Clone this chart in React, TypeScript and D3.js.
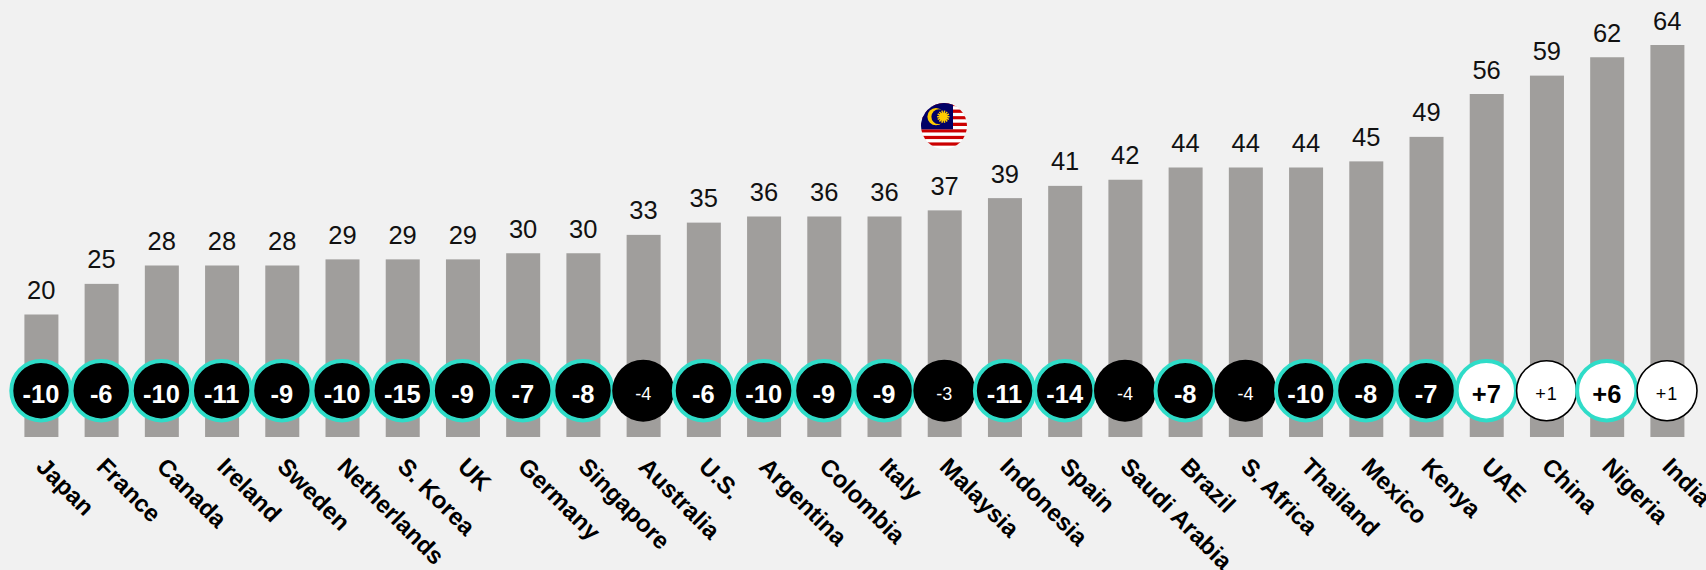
import React from "react";
import * as d3 from "d3";

const countries = ["Japan", "France", "Canada", "Ireland", "Sweden", "Netherlands", "S. Korea", "UK", "Germany", "Singapore", "Australia", "U.S.", "Argentina", "Colombia", "Italy", "Malaysia", "Indonesia", "Spain", "Saudi Arabia", "Brazil", "S. Africa", "Thailand", "Mexico", "Kenya", "UAE", "China", "Nigeria", "India"];
const scores = [20, 25, 28, 28, 28, 29, 29, 29, 30, 30, 33, 35, 36, 36, 36, 37, 39, 41, 42, 44, 44, 44, 45, 49, 56, 59, 62, 64];
const changes = [-10, -6, -10, -11, -9, -10, -15, -9, -7, -8, -4, -6, -10, -9, -9, -3, -11, -14, -4, -8, -4, -10, -8, -7, 7, 1, 6, 1];

const WIDTH = 1706;
const HEIGHT = 570;
const BAR_WIDTH = 34;
const BADGE_Y = 390.7;
const TEAL = "#2fdcc8";
const FONT = "'Liberation Sans', Arial, sans-serif";

const x = d3.scaleLinear().domain([0, countries.length - 1]).range([41, 1667]);
const y = d3.scaleLinear().domain([0, 64]).range([437, 45]);

// Round Malaysian flag floating above its bar
function MalaysiaFlag({ cx, cy, r }: { cx: number; cy: number; r: number }) {
  const stripeHeight = (2 * r) / 14;
  const stripes = d3.range(14);
  const top = cy - r;
  const cantonBottom = top + stripeHeight * 8;
  const cantonRight = cx + 9;
  const sunX = cx - 0.7;
  const sunY = top + 13.7;
  const rays = d3.range(14).map((i) => (i * 2 * Math.PI) / 14);
  return (
    <g>
      <clipPath id="flag-clip">
        <circle cx={cx} cy={cy} r={r} />
      </clipPath>
      <g clipPath="url(#flag-clip)">
        {stripes.map((i) => (
          <rect key={i} x={cx - r} y={top + i * stripeHeight} width={2 * r} height={stripeHeight + 0.2} fill={i % 2 === 0 ? "#cc0001" : "#ffffff"} />
        ))}
        <rect x={cx - r} y={top} width={cantonRight - cx + r} height={cantonBottom - top} fill="#010066" />
        <circle cx={cx - 8} cy={sunY} r={8.6} fill="#ffcc00" />
        <circle cx={cx - 5.2} cy={sunY} r={7.4} fill="#010066" />
        {rays.map((a, i) => (
          <line key={i} x1={sunX} y1={sunY} x2={sunX + 6.2 * Math.cos(a)} y2={sunY + 6.2 * Math.sin(a)} stroke="#ffcc00" strokeWidth={1.5} />
        ))}
        <circle cx={sunX} cy={sunY} r={4} fill="#ffcc00" />
      </g>
    </g>
  );
}

export default function App() {
  return (
    <svg width={WIDTH} height={HEIGHT} style={{ position: "absolute", left: 0, top: 0, display: "block", background: "#f1f1f1" }} fontFamily={FONT}>
      {scores.map((s, i) => (
        <rect key={countries[i]} x={x(i) + 0.4 - BAR_WIDTH / 2} y={y(s)} width={BAR_WIDTH} height={y(0) - y(s)} fill="#a09e9c" />
      ))}
      {scores.map((s, i) => (
        <text key={countries[i]} x={x(i) + 0.3} y={y(s) - 15.5} textAnchor="middle" fontSize={25.5} fill="#111">{s}</text>
      ))}
      {changes.map((c, i) => {
        const big = Math.abs(c) >= 5;
        const cx = x(i);
        const fill = c < 0 ? "#000" : "#fff";
        const outline = big ? TEAL : "#000";
        const radius = big ? 29.7 : c < 0 ? 31 : 30;
        const ringWidth = big ? 4 : c > 0 ? 1.6 : 0;
        return (
          <g key={countries[i]}>
            <circle cx={cx} cy={BADGE_Y} r={radius} fill={fill} stroke={outline} strokeWidth={ringWidth} />
            <text x={cx} y={big ? 403 : 399.5} textAnchor="middle" fontSize={big ? 25.5 : 18} letterSpacing={!big && c > 0 ? 1 : 0} fontWeight={big ? 700 : 400} fill={c < 0 ? "#fff" : "#000"}>
              {c > 0 ? `+${c}` : c}
            </text>
          </g>
        );
      })}
      {countries.map((name, i) => (
        <text key={name} transform={`translate(${x(i) - 6},${468}) rotate(45)`} fontSize={24} fontWeight={700} fill="#000">{name}</text>
      ))}
      <MalaysiaFlag cx={944} cy={126} r={23} />
    </svg>
  );
}
